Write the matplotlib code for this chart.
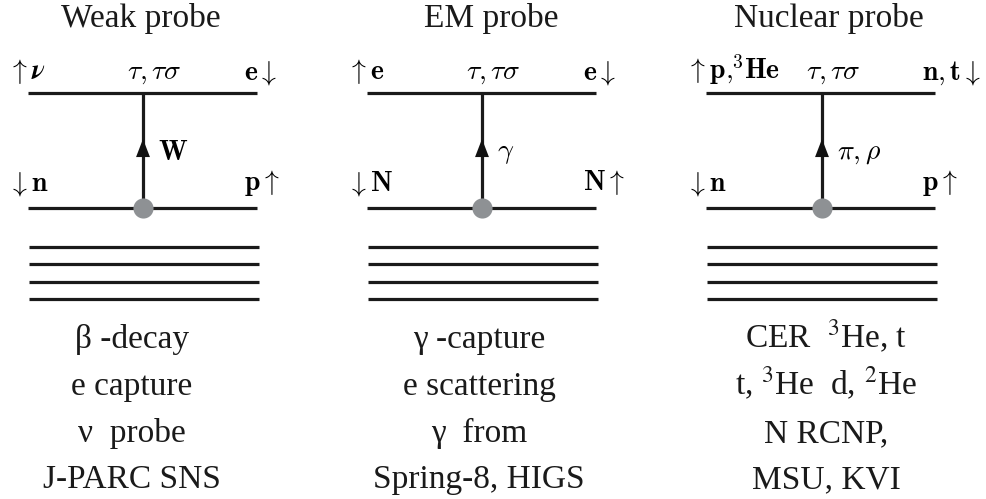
import matplotlib.pyplot as plt

# panel contents
titles = ['Weak probe', 'EM probe', 'Nuclear probe']
top_left = [r'$\uparrow\boldsymbol{\nu}$', r'$\uparrow\mathbf{e}$', r'$\uparrow\mathbf{p}{,}^{\mathbf{3}}\mathbf{He}$']
top_right = [r'$\mathbf{e}\downarrow$', r'$\mathbf{e}\downarrow$', r'$\mathbf{n},\mathbf{t}\downarrow$']
top_mid = [r'$\tau,\tau\sigma$'] * 3
bot_left = [r'$\downarrow\mathbf{n}$', r'$\downarrow\mathbf{N}$', r'$\downarrow\mathbf{n}$']
bot_right = [r'$\mathbf{p}\uparrow$', r'$\mathbf{N}\uparrow$', r'$\mathbf{p}\uparrow$']
exchange = [r'$\mathbf{W}$', r'$\gamma$', r'$\pi,\rho$']
notes = [
    ['β -decay', 'e capture', 'ν  probe', 'J-PARC SNS'],
    ['γ -capture', 'e scattering', 'γ  from', 'Spring-8, HIGS'],
    ['CER  $^{3}$He, t', 't, $^{3}$He  d, $^{2}$He', 'N RCNP,', 'MSU, KVI'],
]

# layout (pixel coordinates)
x_left = [28, 367, 706]
x_right = [257, 596, 935]
x_vert = [143, 482, 822]
title_x = [141, 491, 829]
note_x = [132, 479, 826]
y_top, y_bot = 93, 208
y_stack = [247, 264, 282, 299]
note_base = [348, 395, 442, 488]

fig = plt.figure(figsize=(9.86, 4.99), dpi=100)
ax = fig.add_axes([0, 0, 1, 1])
ax.set_xlim(0, 986)
ax.set_ylim(499, 0)
ax.axis('off')

serif = 'Liberation Serif'
mfs = 20
for i in range(3):
    xl, xr, xv = x_left[i], x_right[i], x_vert[i]
    ax.hlines([y_top, y_bot], xl, xr, color='#1a1a1a', lw=2.3)
    ax.hlines(y_stack, xl + 1, xr + 2, color='#1a1a1a', lw=2.3)
    ax.vlines(xv, y_top, y_bot, color='#1a1a1a', lw=2.3)
    ax.annotate('', xy=(xv, 139), xytext=(xv, 159),
                arrowprops=dict(arrowstyle='-|>,head_length=1.3,head_width=0.5',
                                color='#111111', lw=0, shrinkA=0, shrinkB=0))
    ax.scatter([xv], [y_bot], s=210, color='#8e9194', zorder=5, linewidths=0)

    ax.text(title_x[i], 27, titles[i], ha='center', va='baseline',
            fontsize=24, family=serif, color='#1a1a1a')
    ax.text(xl - 20, 79, top_left[i], ha='left', va='baseline', fontsize=mfs, math_fontfamily='cm')
    ax.text(xr - 13, 79, top_right[i], ha='left', va='baseline', fontsize=mfs, math_fontfamily='cm')
    ax.text(xv + 11, 79, top_mid[i], ha='center', va='baseline', fontsize=mfs, math_fontfamily='cm')
    ax.text(xl - 20, 190, bot_left[i], ha='left', va='baseline', fontsize=mfs, math_fontfamily='cm')
    ax.text(xr - 13, 190, bot_right[i], ha='left', va='baseline', fontsize=mfs, math_fontfamily='cm')
    ax.text(xv + 15, 152, exchange[i], ha='left', va='center', fontsize=mfs, math_fontfamily='cm')

    for line, yb in zip(notes[i], note_base):
        ax.text(note_x[i], yb, line, ha='center', va='baseline',
                fontsize=24, family=serif, color='#1a1a1a', math_fontfamily='stix')

fig.savefig('out.png', dpi=100)
